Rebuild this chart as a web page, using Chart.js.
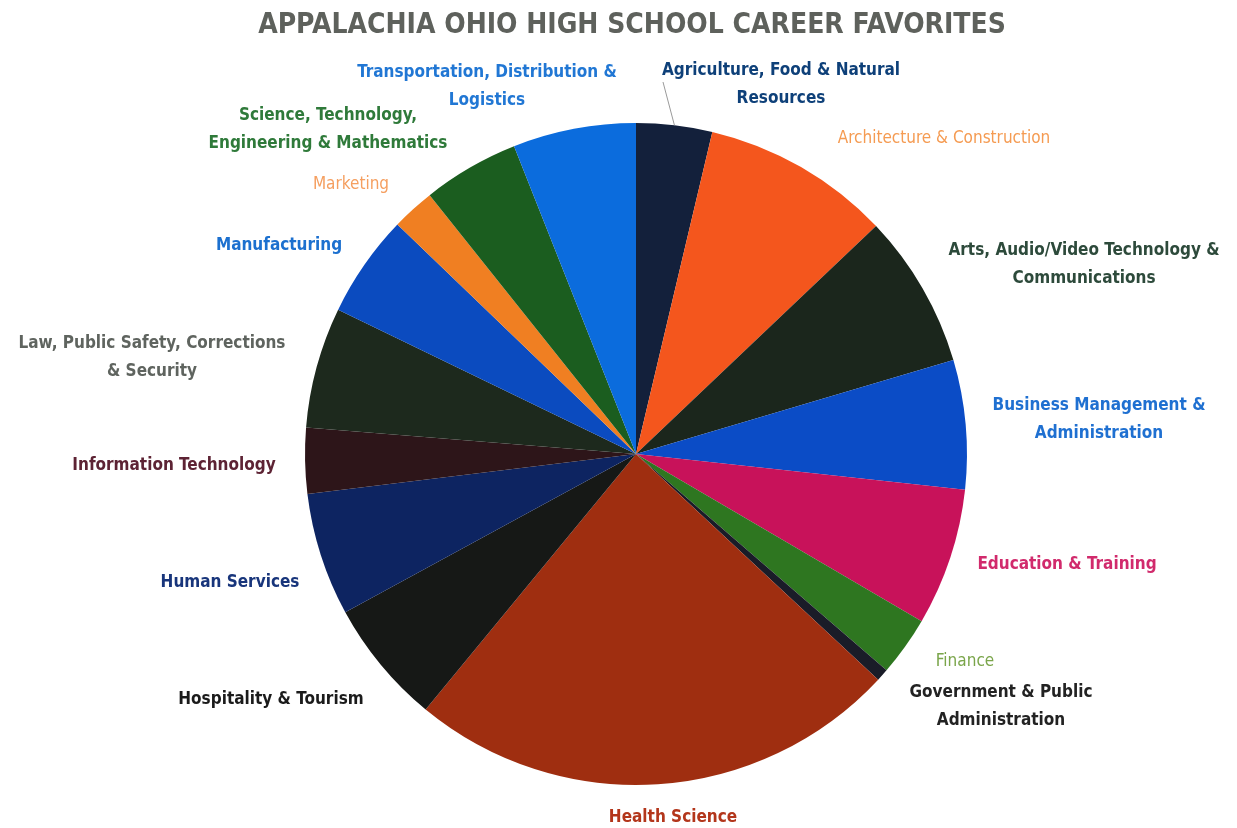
<!DOCTYPE html>
<html>
<head>
<meta charset="utf-8">
<title>Appalachia Ohio High School Career Favorites</title>
<script src="https://cdn.jsdelivr.net/npm/chart.js@4.4.1/dist/chart.umd.min.js"></script>
<style>
  html, body { margin:0; padding:0; background:#fff; }
  #wrap { width:1237px; height:828px; position:relative; }
</style>
</head>
<body>
<div id="wrap"><canvas id="careerChart"></canvas></div>
<script>
// ============ DATA ============
const chartTitle = 'APPALACHIA OHIO HIGH SCHOOL CAREER FAVORITES';

const categories = [
  'Agriculture, Food & Natural Resources',
  'Architecture & Construction',
  'Arts, Audio/Video Technology & Communications',
  'Business Management & Administration',
  'Education & Training',
  'Finance',
  'Government & Public Administration',
  'Health Science',
  'Hospitality & Tourism',
  'Human Services',
  'Information Technology',
  'Law, Public Safety, Corrections & Security',
  'Manufacturing',
  'Marketing',
  'Science, Technology, Engineering & Mathematics',
  'Transportation, Distribution & Logistics'
];

// share of students (%)
const shares = [3.7, 9.2, 7.5, 6.3, 6.7, 2.9, 0.6, 24.0, 6.1, 6.0, 3.2, 5.9, 5.0, 2.1, 4.7, 6.0];

// label text as it wraps on the picture
const labelLines = [
  ['Agriculture, Food & Natural', 'Resources'],
  ['Architecture & Construction'],
  ['Arts, Audio/Video Technology &', 'Communications'],
  ['Business Management &', 'Administration'],
  ['Education & Training'],
  ['Finance'],
  ['Government & Public', 'Administration'],
  ['Health Science'],
  ['Hospitality & Tourism'],
  ['Human Services'],
  ['Information Technology'],
  ['Law, Public Safety, Corrections', '& Security'],
  ['Manufacturing'],
  ['Marketing'],
  ['Science, Technology,', 'Engineering & Mathematics'],
  ['Transportation, Distribution &', 'Logistics']
];

// ============ STYLE / LAYOUT ============
const sliceColors = [
  '#13203b', '#f4561d', '#1b261c', '#0b4cc6', '#c8125a', '#2e7620', '#1a1c28', '#9f2e10',
  '#161816', '#0d2461', '#2d1519', '#1d291d', '#0b4bbf', '#f07f22', '#1b5d1f', '#0b6cdd'
];
const labelColors = [
  '#0e4079', '#f59b52', '#2d4a3b', '#1f70d1', '#d12a6c', '#7aa54a', '#222222', '#b3361b',
  '#1b1b1b', '#18357b', '#5d2334', '#5f645f', '#1c70cf', '#f59f60', '#2f7a3a', '#2177d4'
];
const labelWeights = ['bold','normal','bold','bold','bold','normal','bold','bold',
                      'bold','bold','bold','bold','bold','normal','bold','bold'];
// centre of each label block (first line y), in page pixels
const labelAnchors = [
  [781, 71], [944, 139], [1084, 251], [1099, 406], [1067, 565], [965, 662], [1001, 693], [673, 818],
  [271, 700], [230, 583], [174, 466], [152, 344], [279, 246], [351, 185], [328, 116], [487, 73]
];
const lineGap = 28;
const FONT = '"DejaVu Sans Condensed", "DejaVu Sans", sans-serif';

const labelPlugin = {
  id: 'careerLabels',
  afterDraw(chart) {
    const ctx = chart.ctx;
    ctx.save();
    // title
    ctx.fillStyle = '#5e615c';
    ctx.font = 'bold 28px ' + FONT;
    ctx.textAlign = 'center';
    ctx.textBaseline = 'middle';
    ctx.fillText(chartTitle, 632, 26);

    // leader line for the agriculture slice
    const arc = chart.getDatasetMeta(0).data[0];
    const mid = (arc.startAngle + arc.endAngle) / 2;
    ctx.strokeStyle = '#9a9a9a';
    ctx.lineWidth = 1;
    ctx.beginPath();
    ctx.moveTo(663, 82);
    ctx.lineTo(arc.x + Math.cos(mid) * arc.outerRadius, arc.y + Math.sin(mid) * arc.outerRadius);
    ctx.stroke();

    labelLines.forEach((lines, i) => {
      ctx.fillStyle = labelColors[i];
      ctx.font = labelWeights[i] + ' 17px ' + FONT;
      const [x, y] = labelAnchors[i];
      lines.forEach((t, j) => ctx.fillText(t, x, y + j * lineGap));
    });
    ctx.restore();
  }
};

new Chart(document.getElementById('careerChart'), {
  type: 'pie',
  data: {
    labels: categories,
    datasets: [{
      data: shares,
      backgroundColor: sliceColors,
      borderWidth: 0,
      offset: 0,
      hoverOffset: 0
    }]
  },
  options: {
    responsive: true,
    maintainAspectRatio: false,
    animation: false,
    rotation: 0,
    layout: { padding: { left: 305, right: 270, top: 123, bottom: 43 } },
    plugins: {
      legend: { display: false },
      tooltip: { enabled: false },
      title: { display: false }
    }
  },
  plugins: [labelPlugin]
});
</script>
</body>
</html>
